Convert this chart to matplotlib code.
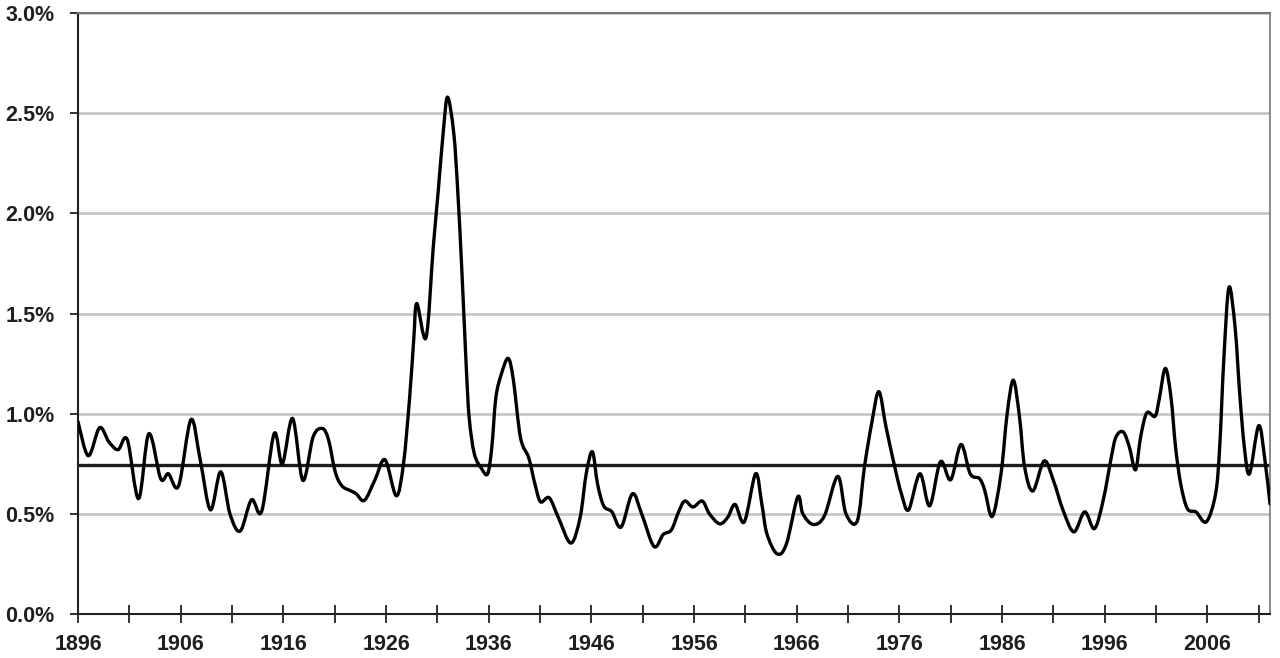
import numpy as np
import matplotlib
matplotlib.use('Agg')
import matplotlib.pyplot as plt
from matplotlib.path import Path
from matplotlib.patches import PathPatch

# values (year, percent)
years = [1896.0, 1897.0, 1898.1, 1899.0, 1899.9, 1900.8, 1901.9, 1902.9, 1904.05, 1904.8,
         1905.8, 1907.0, 1907.9, 1908.9, 1909.9, 1910.8, 1911.8, 1912.9, 1913.9, 1915.1,
         1915.9, 1916.9, 1917.9, 1918.9, 1919.8, 1920.4, 1921.05, 1921.7, 1922.6, 1923.1,
         1923.9, 1924.9, 1925.9, 1927.0, 1927.7, 1928.3, 1928.7, 1929.0, 1929.9, 1930.6,
         1931.1, 1931.6, 1932.0, 1932.6, 1933.0, 1933.4, 1933.8, 1934.1, 1934.6, 1935.3,
         1935.9, 1936.3, 1936.7, 1937.25, 1937.9, 1938.4, 1939.1, 1939.9, 1940.5, 1941.05,
         1941.9, 1942.8, 1944.0, 1944.9, 1945.5, 1946.1, 1946.6, 1947.2, 1948.0, 1948.9,
         1950.0, 1950.9, 1952.1, 1953.0, 1953.8, 1954.5, 1955.1, 1955.9, 1956.8, 1957.5,
         1958.5, 1959.3, 1960.0, 1960.9, 1962.0, 1962.6, 1963.1, 1964.1, 1965.0, 1966.1,
         1966.6, 1967.6, 1968.7, 1970.0, 1970.8, 1971.9, 1972.6, 1973.3, 1974.0, 1974.7,
         1975.55, 1976.2, 1976.9, 1978.0, 1978.95, 1980.0, 1981.0, 1982.0, 1982.9, 1983.8,
         1984.3, 1985.05, 1985.9, 1986.5, 1987.1, 1987.7, 1988.2, 1989.0, 1990.1, 1991.0,
         1991.95, 1993.0, 1994.05, 1995.0, 1995.85, 1996.65, 1997.1, 1997.8, 1998.4, 1999.0,
         1999.5, 2000.1, 2000.9, 2001.3, 2001.9, 2002.45, 2002.9, 2003.4, 2004.05, 2004.9,
         2005.9, 2006.8, 2007.2, 2007.6, 2008.1, 2008.7, 2009.15, 2009.6, 2010.1, 2011.0,
         2011.6, 2012.1]
rate = [0.96, 0.79, 0.93, 0.86, 0.82, 0.87, 0.576, 0.90, 0.676, 0.70,
        0.64, 0.97, 0.77, 0.52, 0.71, 0.50, 0.414, 0.57, 0.514, 0.90,
        0.75, 0.976, 0.667, 0.884, 0.926, 0.87, 0.71, 0.64, 0.614, 0.60,
        0.567, 0.667, 0.77, 0.59, 0.75, 1.08, 1.37, 1.55, 1.38, 1.83,
        2.12, 2.42, 2.58, 2.40, 2.10, 1.70, 1.25, 0.98, 0.80, 0.726,
        0.70, 0.83, 1.08, 1.20, 1.276, 1.17, 0.88, 0.78, 0.65, 0.56,
        0.58, 0.48, 0.354, 0.48, 0.70, 0.81, 0.65, 0.54, 0.51, 0.434,
        0.60, 0.50, 0.337, 0.397, 0.42, 0.51, 0.564, 0.534, 0.564, 0.50,
        0.45, 0.484, 0.547, 0.46, 0.70, 0.55, 0.40, 0.30, 0.35, 0.584,
        0.50, 0.447, 0.49, 0.687, 0.50, 0.464, 0.734, 0.95, 1.11, 0.934,
        0.734, 0.60, 0.52, 0.70, 0.54, 0.76, 0.67, 0.846, 0.70, 0.676,
        0.62, 0.487, 0.70, 1.0, 1.167, 0.984, 0.734, 0.614, 0.764, 0.667,
        0.517, 0.41, 0.51, 0.426, 0.567, 0.784, 0.884, 0.909, 0.834, 0.72,
        0.884, 1.004, 0.987, 1.07, 1.226, 1.084, 0.834, 0.65, 0.526, 0.509,
        0.46, 0.60, 0.834, 1.27, 1.63, 1.43, 1.10, 0.834, 0.70, 0.94,
        0.77, 0.55]
average = 0.745

yticks = [0.0, 0.5, 1.0, 1.5, 2.0, 2.5, 3.0]
label_years = list(range(1896, 2012, 10))
mid_years = list(range(1901, 2013, 10))

plt.rcParams['font.family'] = ['Liberation Sans', 'DejaVu Sans']

fig = plt.figure(figsize=(12.8, 6.58), dpi=100)
ax = fig.add_axes([78 / 1280, 1 - 614 / 658, 1192 / 1280, 601 / 658])


def smooth_path(xs, ys):
    # excel-style smoothed line: cubic bezier segments through the points
    pts = np.column_stack([xs, ys])
    verts = [pts[0]]
    codes = [Path.MOVETO]
    n = len(pts)
    for i in range(n - 1):
        p0 = pts[max(i - 1, 0)]
        p1 = pts[i]
        p2 = pts[i + 1]
        p3 = pts[min(i + 2, n - 1)]
        verts += [p1 + (p2 - p0) / 6, p2 - (p3 - p1) / 6, p2]
        codes += [Path.CURVE4] * 3
    return Path(verts, codes)


ax.add_patch(PathPatch(smooth_path(years, rate), fill=False, edgecolor='black',
                       lw=2.4, joinstyle='round', capstyle='round', zorder=3))
ax.axhline(average, color='#1c1c1c', lw=2.4, zorder=2)

ax.set_xlim(1896, 2012.1)
ax.set_ylim(0, 3.0)
ax.set_yticks(yticks)
ax.set_yticklabels([f'{v:.1f}%' for v in yticks])
ax.set_xticks(label_years)
ax.set_xticks(mid_years, minor=True)
ax.yaxis.grid(True, color='#c8c8c8', lw=2)
ax.set_axisbelow(True)

for lbl in ax.get_xticklabels() + ax.get_yticklabels():
    lbl.set_fontweight('bold')
    lbl.set_fontsize(15.5)
    lbl.set_color('#1e1e1e')

ax.tick_params(axis='x', which='both', direction='inout', length=13, width=1.3,
               pad=8, color='#222222')
ax.tick_params(axis='y', direction='out', length=6, width=1.3, pad=11, color='#222222')

ax.spines['left'].set_color('#222222')
ax.spines['bottom'].set_color('#222222')
ax.spines['left'].set_linewidth(1.5)
ax.spines['bottom'].set_linewidth(1.5)
ax.spines['top'].set_color('#777777')
ax.spines['right'].set_color('#777777')
ax.spines['top'].set_linewidth(1.5)
ax.spines['right'].set_linewidth(1.2)

fig.savefig('out.png', dpi=100)
